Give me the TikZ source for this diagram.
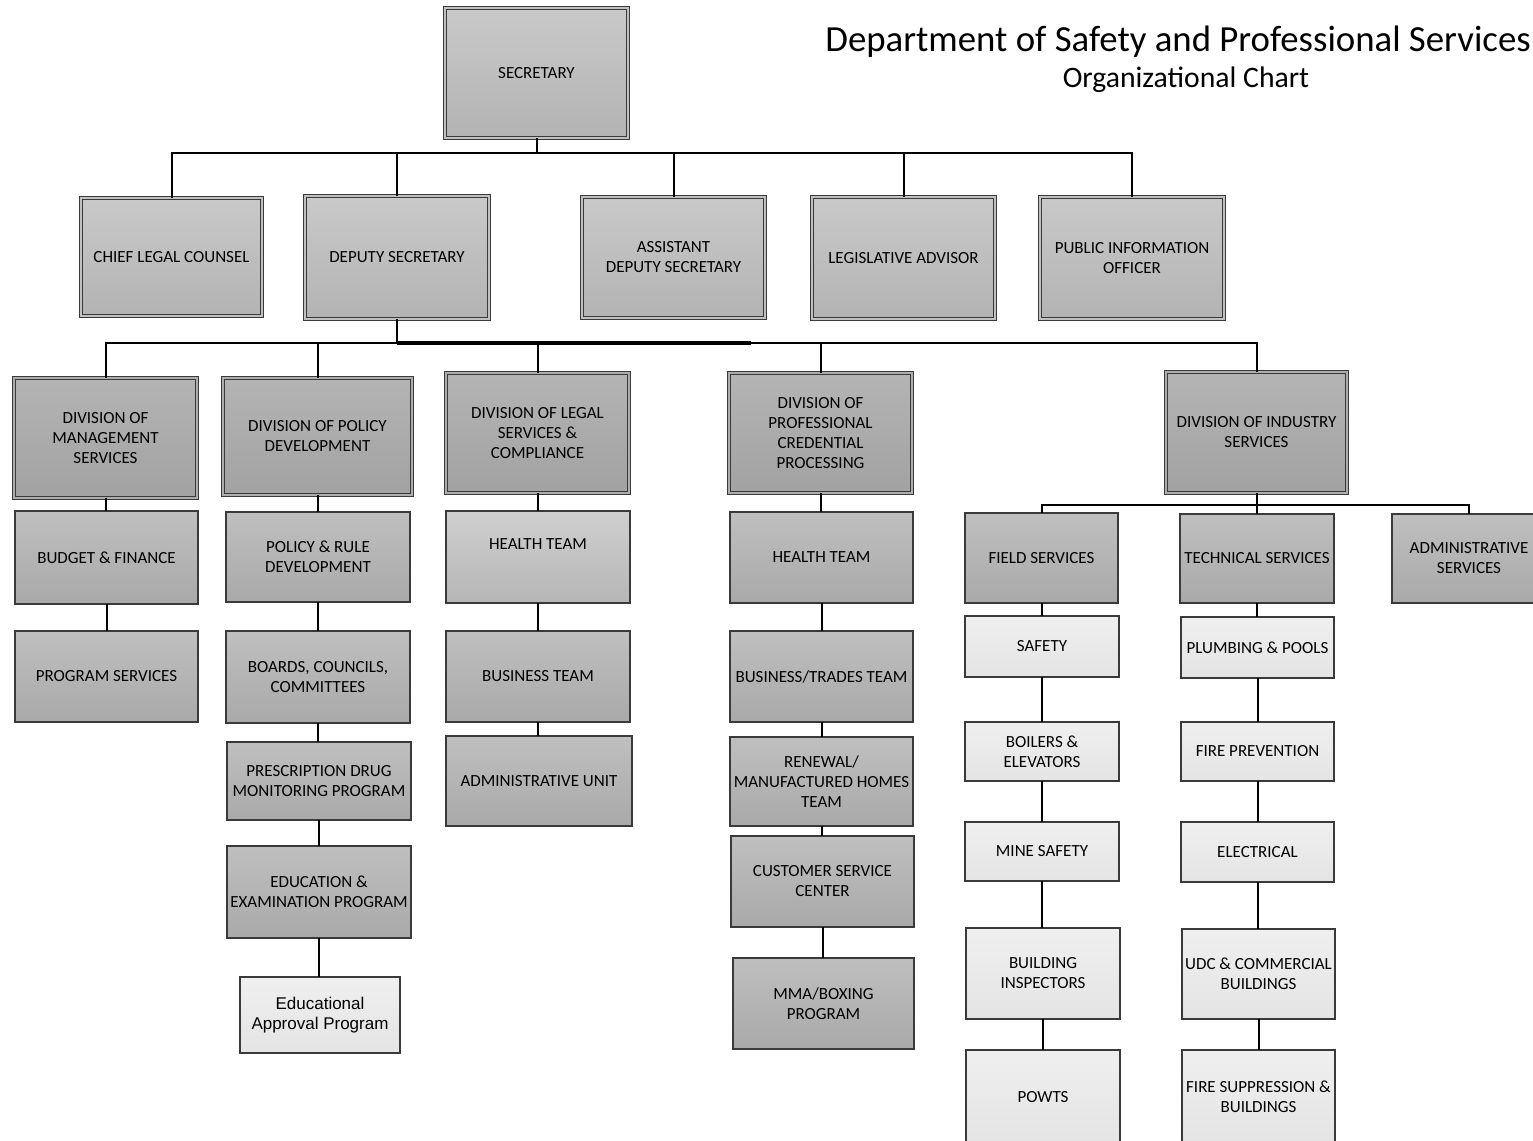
\documentclass[tikz,border=0pt]{standalone}
\usepackage{fontspec}
\setmainfont{Carlito}
\newfontfamily\arialf{Liberation Sans}
\definecolor{tA}{HTML}{C9C9C9}
\definecolor{bA}{HTML}{B3B3B3}
\definecolor{tB}{HTML}{B4B4B4}
\definecolor{bB}{HTML}{A2A2A2}
\definecolor{tC}{HTML}{BFBFBF}
\definecolor{bC}{HTML}{A9A9A9}
\definecolor{tD}{HTML}{EFEFEF}
\definecolor{bD}{HTML}{E4E4E4}
\definecolor{edge}{HTML}{3A3A3A}
\tikzset{
  basebox/.style={rectangle, inner sep=0pt, outer sep=0pt, align=center,
    font=\fontsize{17}{20}\selectfont, text=black},
  topbox/.style={basebox, top color=tA, bottom color=bA, draw=edge, line width=0.9pt,
    double=tA!60!bA, double distance=2.4pt},
  divbox/.style={basebox, top color=tB, bottom color=bB, draw=edge, line width=0.9pt,
    double=tB!60!bB, double distance=2.4pt},
  midbox/.style={basebox, top color=tC, bottom color=bC, draw=edge, line width=1.1pt},
  lightbox/.style={basebox, top color=tD, bottom color=bD, draw=edge, line width=1.1pt},
  wire/.style={line width=2pt, black},
  sz/.style 2 args={minimum width=#1pt, minimum height=#2pt}
}
\begin{document}
\begin{tikzpicture}[x=1pt,y=-1pt]
\useasboundingbox (0,0) rectangle (1533,1140);
\fill[white] (0,0) rectangle (1533,1140);
\clip (0,0) rectangle (1533,1140);

% title
\node[anchor=base east, font=\fontsize{36.8}{40}\selectfont, inner sep=0pt] (title) at (1531,52) {Department of Safety and Professional Services};
\node[anchor=base, font=\fontsize{29.7}{32}\selectfont, inner sep=0pt] (subtitle) at (1186,88) {Organizational Chart};

% level 1
\node[topbox, sz={183}{130}] (sec) at (536.5,73) {SECRETARY};

% level 2
\node[topbox, sz={181}{118}] (clc) at (171.5,257) {CHIEF LEGAL COUNSEL};
\node[topbox, sz={184}{123}] (dep) at (397,257.5) {DEPUTY SECRETARY};
\node[topbox, sz={183}{121}] (ads) at (673.5,257.5) {ASSISTANT\\DEPUTY SECRETARY};
\node[topbox, sz={183}{122}] (leg) at (903.5,258) {LEGISLATIVE ADVISOR};
\node[topbox, sz={184}{122}] (pio) at (1132,258) {PUBLIC INFORMATION\\OFFICER};

% divisions
\node[divbox, sz={183}{120}] (dms) at (105.5,438) {DIVISION OF\\MANAGEMENT\\SERVICES};
\node[divbox, sz={189}{117}] (dpd) at (317.5,436.5) {DIVISION OF POLICY\\DEVELOPMENT};
\node[divbox, sz={183}{120}] (dls) at (537.5,433) {DIVISION OF LEGAL\\SERVICES \&\\COMPLIANCE};
\node[divbox, sz={183}{120}] (dpc) at (820.5,433) {DIVISION OF\\PROFESSIONAL\\CREDENTIAL\\PROCESSING};
\node[divbox, sz={181}{121}] (dis) at (1256.5,432.5) {DIVISION OF INDUSTRY\\SERVICES};

% column 1
\node[midbox, sz={183}{93}] (bf) at (106.5,557.5) {BUDGET \& FINANCE};
\node[midbox, sz={183}{91}] (ps) at (106.5,676.5) {PROGRAM SERVICES};

% column 2
\node[midbox, sz={184}{90}] (prd) at (318,557) {POLICY \& RULE\\DEVELOPMENT};
\node[midbox, sz={184}{92}] (bcc) at (318,677) {BOARDS, COUNCILS,\\COMMITTEES};
\node[midbox, sz={184}{78}] (pdmp) at (319,781) {PRESCRIPTION DRUG\\MONITORING PROGRAM};
\node[midbox, sz={184}{92}] (eep) at (319,892) {EDUCATION \&\\EXAMINATION PROGRAM};
\node[lightbox, sz={160}{76}, font=\arialf\fontsize{17}{20}\selectfont] (eap) at (320,1015) {Educational\\Approval Program};

% column 3
\node[midbox, sz={184}{92}, top color=tC!75!white, bottom color=bC!85!white] (ht1) at (538,557) {HEALTH TEAM\\[6pt]\mbox{}};
\node[midbox, sz={184}{91}] (bt) at (538,676.5) {BUSINESS TEAM};
\node[midbox, sz={186}{90}] (au) at (539,781) {ADMINISTRATIVE UNIT};

% column 4
\node[midbox, sz={183}{91}] (ht2) at (821.5,557.5) {HEALTH TEAM};
\node[midbox, sz={183}{91}] (btt) at (821.5,676.5) {BUSINESS/TRADES TEAM};
\node[midbox, sz={183}{89}] (ren) at (821.5,781.5) {RENEWAL/\\MANUFACTURED HOMES\\TEAM};
\node[midbox, sz={183}{91}] (csc) at (822.5,881.5) {CUSTOMER SERVICE\\CENTER};
\node[midbox, sz={181}{91}] (mma) at (823.5,1003.5) {MMA/BOXING\\PROGRAM};

% industry services
\node[midbox, sz={153}{90}] (fs) at (1041.5,558) {FIELD SERVICES};
\node[midbox, sz={154}{89}] (ts) at (1257,558.5) {TECHNICAL SERVICES};
\node[midbox, sz={154}{89}] (as) at (1469,558.5) {ADMINISTRATIVE\\SERVICES};

% field column
\node[lightbox, sz={154}{61}] (saf) at (1042,646.5) {SAFETY};
\node[lightbox, sz={154}{59}] (boi) at (1042,751.5) {BOILERS \&\\ELEVATORS};
\node[lightbox, sz={154}{59}] (min) at (1042,851.5) {MINE SAFETY};
\node[lightbox, sz={154}{91}] (bld) at (1043,973.5) {BUILDING\\INSPECTORS};
\node[lightbox, sz={154}{94}] (pow) at (1043,1097) {POWTS};

% technical column
\node[lightbox, sz={153}{61}] (plu) at (1257.5,647.5) {PLUMBING \& POOLS};
\node[lightbox, sz={153}{59}] (fir) at (1257.5,751.5) {FIRE PREVENTION};
\node[lightbox, sz={153}{60}] (ele) at (1257.5,852) {ELECTRICAL};
\node[lightbox, sz={153}{90}] (udc) at (1258.5,974) {UDC \& COMMERCIAL\\BUILDINGS};
\node[lightbox, sz={153}{94}] (fsb) at (1258.5,1097) {FIRE SUPPRESSION \&\\BUILDINGS};

% bus levels
\coordinate (busA) at (0,153);
\coordinate (busB) at (0,343);
\coordinate (busC) at (0,505);

\foreach \c in {clc,dep,ads,leg,pio}
  \draw[wire] (sec.south) -- (sec.south |- busA) -| (\c.north);
\foreach \c in {dms,dpd,dls,dpc,dis}
  \draw[wire] (dep.south) -- (dep.south |- busB) -| (\c.north);
\draw[wire, line width=3.6pt] (dep.south |- busB) -- ([xshift=-70pt]dpc.north |- busB);
\foreach \c in {fs,ts,as}
  \draw[wire] (dis.south) -- (dis.south |- busC) -| (\c.north);

% vertical chains
\draw[wire] (dms.south) -- (dms.south |- bf.north);
\draw[wire] (bf.south) -- (bf.south |- ps.north);
\draw[wire] (dpd.south) -- (dpd.south |- prd.north);
\draw[wire] (prd.south) -- (prd.south |- bcc.north);
\draw[wire] (bcc.south) -- (bcc.south |- pdmp.north);
\draw[wire] (pdmp.south) -- (pdmp.south |- eep.north);
\draw[wire] (eep.south) -- (eep.south |- eap.north);
\draw[wire] (dls.south) -- (dls.south |- ht1.north);
\draw[wire] (ht1.south) -- (ht1.south |- bt.north);
\draw[wire] (bt.south) -- (bt.south |- au.north);
\draw[wire] (dpc.south) -- (dpc.south |- ht2.north);
\draw[wire] (ht2.south) -- (ht2.south |- btt.north);
\draw[wire] (btt.south) -- (btt.south |- ren.north);
\draw[wire] (ren.south) -- (ren.south |- csc.north);
\draw[wire] (csc.south) -- (csc.south |- mma.north);
\draw[wire] (fs.south) -- (fs.south |- saf.north);
\draw[wire] (saf.south) -- (saf.south |- boi.north);
\draw[wire] (boi.south) -- (boi.south |- min.north);
\draw[wire] (min.south) -- (min.south |- bld.north);
\draw[wire] (bld.south) -- (bld.south |- pow.north);
\draw[wire] (ts.south) -- (ts.south |- plu.north);
\draw[wire] (plu.south) -- (plu.south |- fir.north);
\draw[wire] (fir.south) -- (fir.south |- ele.north);
\draw[wire] (ele.south) -- (ele.south |- udc.north);
\draw[wire] (udc.south) -- (udc.south |- fsb.north);
\end{tikzpicture}
\end{document}
